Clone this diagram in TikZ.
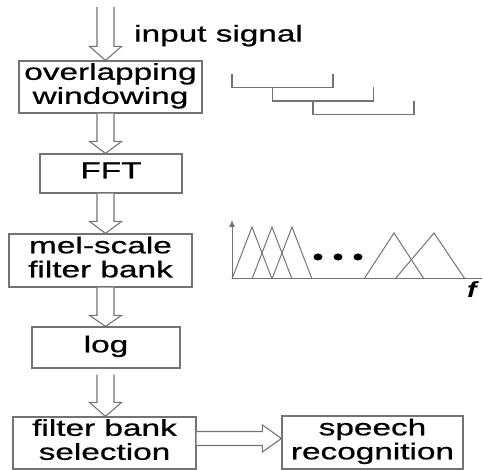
\documentclass[tikz,border=0pt]{standalone}
\usepackage{fontspec}
\usepackage{graphicx}
\usepackage{tikz}
\usetikzlibrary{calc,arrows.meta}
\setmainfont{Liberation Sans}[FakeBold=0.6]
\newfontfamily\plainsans{Liberation Sans}
\definecolor{linegray}{gray}{0.45}

\newcommand{\wide}[1]{\scalebox{1.45}[1]{\begin{tabular}{@{}c@{}}#1\end{tabular}}}
\newcommand{\fatdown}[3]{\draw[fatarrow] let \p1=(#1), \p2=(#2) in
	(\x2-8.5pt,\y1) -- (\x2-8.5pt,\y2+#3) -- (\x2-16pt,\y2+#3) -- (\x2,\y2)
	-- (\x2+16pt,\y2+#3) -- (\x2+8.5pt,\y2+#3) -- (\x2+8.5pt,\y1);}
\newcommand{\fatright}[3]{\draw[fatarrow] let \p1=(#1), \p2=(#2) in
	(\x1,\y2+7pt) -- (\x2-#3,\y2+7pt) -- (\x2-#3,\y2+13.5pt) -- (\x2,\y2)
	-- (\x2-#3,\y2-13.5pt) -- (\x2-#3,\y2-7pt) -- (\x1,\y2-7pt);}

\begin{document}
\begin{tikzpicture}[x=1pt,y=-1pt,
			font=\fontsize{23}{24}\selectfont\addfontfeatures{FakeBold=0.6},
			blk/.style={draw=linegray,line width=1.2pt,fill=white,inner sep=0pt},
			fatarrow/.style={draw=linegray,line width=1.1pt,fill=white,line join=miter},
			frame/.style={draw=linegray,line width=1.4pt},
			curve/.style={draw=linegray,line width=1pt}]
		\useasboundingbox (0,0) rectangle (483,470);
		\coordinate (axis) at (105.5,0);
		\coordinate (sig) at (105.5,7);

		\node[blk,minimum width=183pt,minimum height=52pt] (win) at (110.5,87) {\wide{overlapping\\windowing}};
		\node[blk,minimum width=142pt,minimum height=39pt] (fft) at (111,173.5) {\wide{FFT}};
		\node[blk,minimum width=183pt,minimum height=53pt] (mel) at (100.5,260.5) {\wide{mel-scale\\filter bank}};
		\node[blk,minimum width=148pt,minimum height=41pt] (log) at (106,347.5) {\wide{log}\hspace{28pt}};
		\node[blk,minimum width=183pt,minimum height=52pt] (fbs) at (104.5,443) {\wide{filter bank\\selection}};
		\node[blk,minimum width=181pt,minimum height=53pt] (sr) at (372.5,442.5) {\wide{speech\\recognition}};
		\node[anchor=base west,inner sep=0pt] (insig) at (134,43) {\wide{input signal}};

		\fatdown{sig}{win.north -| axis}{14pt}
		\fatdown{win.south -| axis}{fft.north -| axis}{12pt}
		\fatdown{fft.south -| axis}{mel.north -| axis}{12pt}
		\fatdown{mel.south -| axis}{log.north -| axis}{11pt}
		\fatdown{$(log.south -| axis)+(0,6)$}{fbs.north -| axis}{14pt}
		\fatright{fbs.east}{$(sr.west)+(0,-4)$}{19pt}

		% overlapping frames
		\foreach \i in {0,1,2}
			\draw[frame] (232+40.5*\i,74+13.5*\i) -- ++(0,13.5) -- ++(101,0) -- ++(0,-13.5);

		% mel filters
		\draw[curve,-{Latex[length=7pt,width=6pt]}] (232,279) -- (232,220);
		\draw[curve] (232,279) -- (482,279);
		\foreach \a in {232,252,272}
			\draw[curve] (\a,279) -- (\a+20,227) -- (\a+40,279);
		\draw[curve] (364,279) -- (394,233) -- (424,279);
		\draw[curve] (395,279) -- (434,233) -- (465,279);
		\foreach \d in {318,338,358}
			\fill (\d,257) ellipse (4.5 and 3.5);
		\node[font=\fontsize{22}{24}\selectfont\plainsans\bfseries\itshape,inner sep=0pt] (freq) at (472,290) {\scalebox{1.3}[1]{f}};
\end{tikzpicture}
\end{document}
